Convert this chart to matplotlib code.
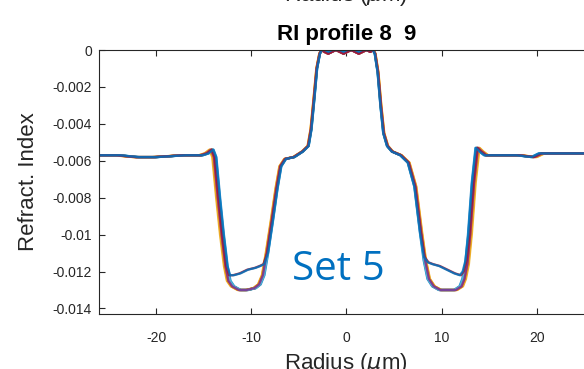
import numpy as np
import matplotlib
matplotlib.use('Agg')
import matplotlib.pyplot as plt

plt.rcParams['font.family'] = ['Liberation Sans', 'DejaVu Sans']
plt.rcParams['axes.unicode_minus'] = False

# profile, split into segments (radius in um, refractive index)
left_outer_r = [-27, -24, -22, -20, -17, -15.2, -14.6, -14.1]
left_outer_ri = [-0.0057, -0.0057, -0.0058, -0.0058, -0.0057, -0.0057, -0.0056, -0.0054]

left_well_r = [-13.8, -13.4, -13.0, -12.6, -12.3, -11.9, -11.2, -10.4, -9.6, -9.1, -8.7, -8.3]
left_well_deep = [-0.0058, -0.0080, -0.0100, -0.0117, -0.0125, -0.0128, -0.0130, -0.0130, -0.0129, -0.0127, -0.0122, -0.0110]
left_well_shallow = [-0.0058, -0.0080, -0.0100, -0.0117, -0.0122, -0.0122, -0.0121, -0.0119, -0.0118, -0.0117, -0.0116, -0.0110]

left_inner_r = [-7.8, -7.3, -6.9, -6.4, -5.5, -4.6, -4.0, -3.7, -3.4, -3.1, -2.8, -2.6]
left_inner_ri = [-0.0093, -0.0075, -0.0063, -0.0059, -0.0058, -0.0055, -0.0052, -0.0043, -0.0027, -0.0010, -0.0002, 0]

core_r = [-2.3, -1.9, -1.5, -1.1, -0.7, -0.3, 0.1, 0.5, 0.9, 1.3, 1.7, 2.1, 2.5]
core_ripple = [-0.0001, -0.0002, -0.0001, 0, -0.0001, -0.0002, -0.0001, 0, -0.0001, -0.0002, -0.0001, 0, -0.0001]
core_flat = [0, -0.0001, 0, 0, 0, -0.0001, 0, 0, 0, -0.0001, 0, 0, 0]

right_inner_r = [2.8, 3.0, 3.3, 3.6, 3.9, 4.3, 4.8, 5.7, 6.5, 7.2]
right_inner_ri = [0, -0.0002, -0.0012, -0.0030, -0.0045, -0.0052, -0.0055, -0.0057, -0.0061, -0.0074]

right_well_r = [7.8, 8.2, 8.6, 9.1, 9.8, 10.6, 11.4, 12.0, 12.3, 12.6, 12.9, 13.3]
right_well_deep = [-0.0099, -0.0114, -0.0124, -0.0128, -0.0130, -0.0130, -0.0130, -0.0128, -0.0124, -0.0116, -0.0100, -0.0072]
right_well_shallow = [-0.0099, -0.0112, -0.0115, -0.0116, -0.0117, -0.0119, -0.0121, -0.0122, -0.0120, -0.0114, -0.0100, -0.0072]

right_outer_r = [13.7, 14.1, 14.6, 18, 19.6, 20.4, 23, 27]
right_outer_ri = [-0.0053, -0.0055, -0.0057, -0.0057, -0.0058, -0.0056, -0.0056, -0.0056]

# one entry per measured profile
curve_colors = ['#EDB120', '#D95319', '#77AC30', '#4DBEEE', '#7E2F8E', '#A2142F', '#0072BD',
                '#EDB120', '#D95319', '#77AC30', '#4DBEEE', '#7E2F8E', '#A2142F', '#0072BD']
curve_scale = [1.022, 1.015, 1.005, 0.998, 1.004, 1.0, 0.99,
               1.018, 1.01, 1.0, 0.995, 1.008, 1.003, 0.993]
curve_shallow = [False, False, False, False, False, False, False,
                 False, False, False, False, False, True, True]
curve_ripple = [False, True, False, False, True, True, False,
                True, False, False, False, True, True, False]

yticks = [0, -0.002, -0.004, -0.006, -0.008, -0.01, -0.012, -0.014]
ytick_labels = ['0', '-0.002', '-0.004', '-0.006', '-0.008', '-0.01', '-0.012', '-0.014']
xticks = [-20, -10, 0, 10, 20]

fig = plt.figure(figsize=(5.84, 3.69), dpi=100)
ax = fig.add_axes([99 / 584, 55 / 369, 494.8 / 584, 264 / 369])

for col, sc, sh, rp in zip(curve_colors, curve_scale, curve_shallow, curve_ripple):
    r = np.concatenate([left_outer_r, left_well_r, left_inner_r, core_r,
                        right_inner_r, right_well_r, right_outer_r]) * sc
    ri = np.concatenate([left_outer_ri,
                         left_well_shallow if sh else left_well_deep,
                         left_inner_ri,
                         core_ripple if rp else core_flat,
                         right_inner_ri,
                         right_well_shallow if sh else right_well_deep,
                         right_outer_ri])
    ax.plot(r, ri, color=col, lw=1.6, alpha=0.85, solid_joinstyle='round')

ax.set_xlim(-26, 26)
ax.set_ylim(-0.0143, 0)
ax.set_xticks(xticks)
ax.set_xticklabels([str(v) for v in xticks])
ax.set_yticks(yticks)
ax.set_yticklabels(ytick_labels)
ax.tick_params(direction='in', length=4, width=0.8, colors='#262626',
               labelcolor='#262626', labelsize=10, top=True, right=True)
ax.tick_params(axis='x', pad=12)
ax.tick_params(axis='y', pad=5)
for s in ax.spines.values():
    s.set_color('#262626')
    s.set_linewidth(0.8)

ax.set_title('RI profile 8  9', fontsize=16, fontweight='bold', pad=7)
ax.set_ylabel('Refract. Index', fontsize=16, color='#262626', labelpad=10)

# axis label of this panel (cut at the bottom edge) and of the panel above (cut at the top)
fig.text(346 / 584, 1 - 369 / 369, r'Radius ($\mu$m)', fontsize=16, color='#262626',
         ha='center', va='baseline')
fig.text(346 / 584, 1 - 0.5 / 369, r'Radius ($\mu$m)', fontsize=16, color='#262626',
         ha='center', va='baseline')

fig.text(292 / 584, 1 - 270 / 369, 'Set 5', fontsize=29, color='#0070C0',
         family=['Open Sans', 'DejaVu Sans'], ha='left', va='center')

fig.savefig('out.png', dpi=100)
